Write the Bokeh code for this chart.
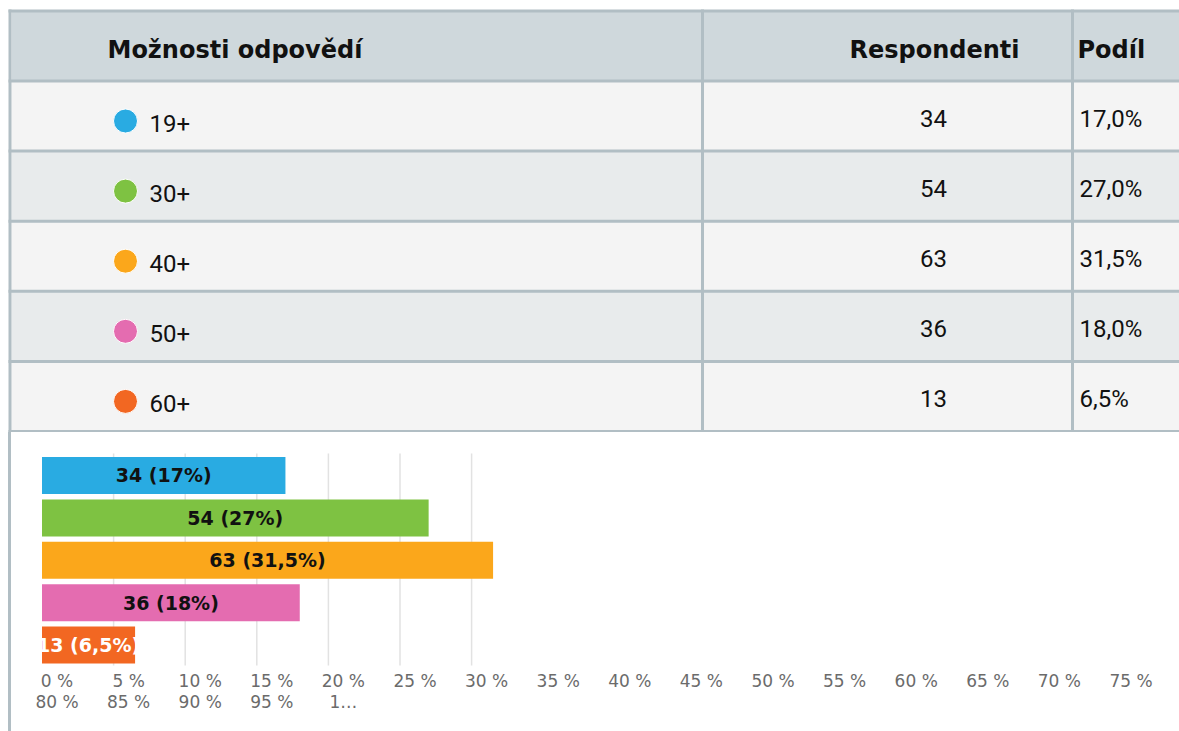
from bokeh.plotting import figure
from bokeh.models import Range1d, FixedTicker, LinearAxis, Div, Spacer
from bokeh.layouts import column, row
from bokeh.core.properties import value
from bokeh.embed import file_html
from bokeh.resources import INLINE

# ---------------- data ----------------
categories = ["19+", "30+", "40+", "50+", "60+"]
respondents = [34, 54, 63, 36, 13]
shares = [17.0, 27.0, 31.5, 18.0, 6.5]
colors = ["#29abe2", "#7ec242", "#fba71b", "#e46cb0", "#f26722"]
headers = ["Možnosti odpovědí", "Respondenti", "Podíl"]
tick_values_row1 = [0, 5, 10, 15, 20, 25, 30, 35, 40, 45, 50, 55, 60, 65, 70, 75]
tick_labels_row1 = ["0 %", "5 %", "10 %", "15 %", "20 %", "25 %", "30 %", "35 %",
                    "40 %", "45 %", "50 %", "55 %", "60 %", "65 %", "70 %", "75 %"]
tick_values_row2 = [0, 5, 10, 15, 20]
tick_labels_row2 = ["80 %", "85 %", "90 %", "95 %", "1…"]
grid_values = [5, 10, 15, 20, 25, 30]

BORDER = "#b1bec4"
HEADER_BG = "#cfd8dc"
ROW_BG = ["#f4f4f4", "#e8ebec"]
TEXT = "#111111"

def fmt_share(s):
    return ("%.1f%%" % s).replace(".", ",")

def fmt_short(s):
    return ("%g" % s).replace(".", ",")

# ---------------- table figure (page pixel coordinates) ----------------
tp = figure(width=1179, height=432, x_range=Range1d(0, 1179), y_range=Range1d(432, 0),
            toolbar_location=None, output_backend="svg", min_border=0,
            x_axis_location=None, y_axis_location=None)
tp.grid.visible = False
tp.outline_line_color = None
tp.background_fill_color = "white"
tp.border_fill_color = "white"

n = len(categories)
row_h = 70.1
row_top = [80.5 + row_h * i for i in range(n)]
row_bot = [t + row_h for t in row_top]

tp.quad(left=[11], right=[1179], top=[10], bottom=[80.5], fill_color=HEADER_BG, line_color=None)
tp.quad(left=[11] * n, right=[1179] * n, top=row_top, bottom=row_bot,
        fill_color=[ROW_BG[i % 2] for i in range(n)], line_color=None)

hy = [10.5] + row_top + [row_bot[-1]]
tp.segment(x0=[8] * len(hy), y0=hy, x1=[1179] * len(hy), y1=hy, line_color=BORDER, line_width=3)
vx = [9.5, 702, 1072]
tp.segment(x0=vx, y0=[9, 9, 9], x1=vx, y1=[432, 432, 432], line_color=BORDER, line_width=3)

tp.text(x=[107, 849, 1077], y=[49] * 3, text=headers, text_font=value("DejaVu Sans"),
        text_font_style="bold", text_font_size="24px", text_color=TEXT,
        text_baseline="middle", text_align="left")

tp.scatter(x=[125] * n, y=[t + 40 for t in row_top], size=24, fill_color=colors,
           line_color="white", line_width=1)
tp.text(x=[149] * n, y=[t + 42.5 for t in row_top], text=categories,
        text_font=value("Roboto"), text_font_size="24px", text_color=TEXT,
        text_baseline="middle", text_align="left")
tp.text(x=[933] * n, y=[t + 37.5 for t in row_top], text=[str(v) for v in respondents],
        text_font=value("Roboto"), text_font_size="24px", text_color=TEXT,
        text_baseline="middle", text_align="center")
tp.text(x=[1079] * n, y=[t + 37.5 for t in row_top], text=[fmt_share(s) for s in shares],
        text_font=value("Roboto"), text_font_size="24px", text_color=TEXT,
        text_baseline="middle", text_align="left")

# ---------------- bar chart figure ----------------
PX_PER_PCT = 14.32
CW = 1168
x0 = (11 - 41.5) / PX_PER_PCT
x1 = x0 + CW / PX_PER_PCT
cp = figure(width=CW, height=299, x_range=Range1d(x0, x1),
            y_range=Range1d(4.552, -1.014),
            toolbar_location=None, output_backend="svg",
            min_border_left=0, min_border_right=0, min_border_top=0, min_border_bottom=63,
            x_axis_location=None, y_axis_location=None)
cp.grid.visible = False
cp.outline_line_color = None
cp.background_fill_color = "white"
cp.border_fill_color = "white"

# tick labels in the reference flow to the right of their tick (like left-aligned text)
shift = 15 / PX_PER_PCT
cp.extra_x_ranges = {"labels": Range1d(x0 - shift, x1 - shift)}

cp.segment(x0=grid_values, y0=[-0.519] * len(grid_values), x1=grid_values,
           y1=[4.48] * len(grid_values), line_color="#e2e2e2", line_width=1.5)

idx = list(range(n))
cp.hbar(y=idx, left=0, right=shares, height=0.873, fill_color=colors, line_color=None)

bar_labels = ["%d (%s%%)" % (r, fmt_short(s)) for r, s in zip(respondents, shares)]
label_colors = ["white" if s < 10 else "#111111" for s in shares]
cp.text(x=[s / 2 for s in shares], y=idx, text=bar_labels, text_align="center",
        text_baseline="middle", text_font=value("DejaVu Sans"), text_font_style="bold",
        text_font_size="19px", text_color=label_colors)

def make_axis(ticks, labels, standoff):
    return LinearAxis(x_range_name="labels", ticker=FixedTicker(ticks=ticks),
                      major_label_overrides={t: l for t, l in zip(ticks, labels)},
                      axis_line_color=None, major_tick_line_color=None,
                      minor_tick_line_color=None,
                      major_tick_out=0, major_tick_in=0, minor_tick_out=0, minor_tick_in=0,
                      major_label_standoff=standoff,
                      major_label_text_font="DejaVu Sans", major_label_text_font_size="17px",
                      major_label_text_color="#6b6b6b")

cp.add_layout(make_axis(tick_values_row1, tick_labels_row1, 2), "below")
cp.add_layout(make_axis(tick_values_row2, tick_labels_row2, -2), "below")

strip = Div(width=3, height=299, margin=0, styles={"background-color": BORDER})

layout = column(tp, row(Spacer(width=8, height=299, margin=0), strip, cp, spacing=0), spacing=0)

open("out.html", "w").write(file_html(layout, INLINE))
